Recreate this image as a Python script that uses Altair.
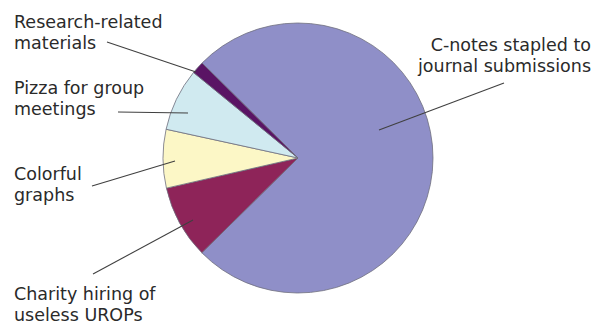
import altair as alt
import pandas as pd
import math

# ---- data ----
categories = [
    "C-notes stapled to journal submissions",
    "Charity hiring of useless UROPs",
    "Colorful graphs",
    "Pizza for group meetings",
    "Research-related materials",
]
shares = [75.2, 8.8, 7.0, 7.5, 1.5]
colors = ["#8f8fc8", "#8e2459", "#fcf7c6", "#d0eaf0", "#5a1464"]

# label text lines per category
label_lines = [
    ["C-notes stapled to", "journal submissions"],
    ["Charity hiring of", "useless UROPs"],
    ["Colorful", "graphs"],
    ["Pizza for group", "meetings"],
    ["Research-related", "materials"],
]

# ---- layout (annotation placement, pixels) ----
W, H = 588, 316
CX, CY, R = 290, 150, 135
START = -45.3  # degrees, where the first slice begins (clockwise from top)
label_x = [583, 6, 6, 6, 6]
label_align = ["right", "left", "left", "left", "left"]
label_y0 = [43, 292, 172, 86, 20]
line_h = 21
leader_from = [(371, 122), (85, 266), (84, 178), (110, 104), (99, 34)]
leader_to = [(496, 75), (185, 212), (167, 153), (180, 105), (188, 64)]

pie_df = pd.DataFrame({"category": categories, "share": shares, "order": range(len(categories))})

text_rows = []
for i, lines in enumerate(label_lines):
    for j, t in enumerate(lines):
        text_rows.append({"t": t, "x": label_x[i], "y": label_y0[i] + j * line_h, "align": label_align[i]})
text_df = pd.DataFrame(text_rows)

line_df = pd.DataFrame({
    "x": [p[0] for p in leader_from], "y": [p[1] for p in leader_from],
    "x2": [p[0] for p in leader_to], "y2": [p[1] for p in leader_to],
})

start = math.radians(START)
pie = alt.Chart(pie_df).mark_arc(
    outerRadius=R, stroke="#6e6e7e", strokeWidth=0.8
).encode(
    theta=alt.Theta("share:Q", stack=True, scale=alt.Scale(range=[start, start + 2 * math.pi])),
    order=alt.Order("order:Q"),
    color=alt.Color("category:N", scale=alt.Scale(domain=categories, range=colors), legend=None),
    x=alt.value(CX),
    y=alt.value(CY),
)

rules = alt.Chart(line_df).mark_rule(color="#404040", strokeWidth=1.1).encode(
    x=alt.X("x:Q", scale=None), y=alt.Y("y:Q", scale=None),
    x2="x2:Q", y2="y2:Q",
)

txt_left = alt.Chart(text_df[text_df["align"] == "left"]).mark_text(
    align="left", baseline="alphabetic", font="DejaVu Sans", fontSize=17.5, color="#2a2a2a"
).encode(x=alt.X("x:Q", scale=None), y=alt.Y("y:Q", scale=None), text="t:N")

txt_right = alt.Chart(text_df[text_df["align"] == "right"]).mark_text(
    align="right", baseline="alphabetic", font="DejaVu Sans", fontSize=17.5, color="#2a2a2a"
).encode(x=alt.X("x:Q", scale=None), y=alt.Y("y:Q", scale=None), text="t:N")

chart = alt.layer(pie, rules, txt_left, txt_right).properties(
    width=W, height=H,
    autosize=alt.AutoSizeParams(type="fit", contains="padding"),
    padding=0,
    background="white",
).configure_view(stroke=None)

chart.save("out.html", embed_options={"renderer": "svg", "actions": False})
